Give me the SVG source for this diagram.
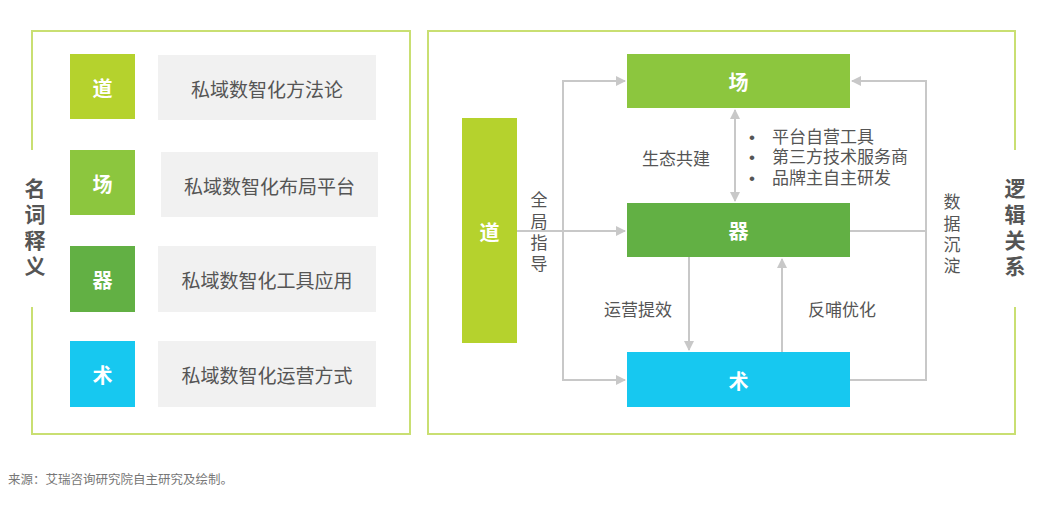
<svg xmlns="http://www.w3.org/2000/svg" width="1040" height="510" viewBox="0 0 1040 510">
<defs>
<style>
text{font-family:"Noto Sans CJK SC","Noto Sans",sans-serif;}
.frame{fill:none;stroke:#c9df72;stroke-width:2;}
.title{font-size:21px;font-weight:bold;fill:#555;text-anchor:middle;writing-mode:vertical-rl;letter-spacing:5px;}
.vlbl{font-size:17px;fill:#555;text-anchor:middle;writing-mode:vertical-rl;letter-spacing:4.3px;}
.sq{font-size:20px;font-weight:bold;fill:#fff;text-anchor:middle;dominant-baseline:central;}
.desc{font-size:19px;fill:#555;text-anchor:middle;dominant-baseline:central;}
.lbl{font-size:17px;fill:#555;text-anchor:middle;dominant-baseline:central;}
text.bul{font-family:"Liberation Sans","Noto Sans CJK SC",sans-serif;font-size:17px;fill:#555;}
.grey{fill:#f1f1f1;}
.conn{fill:none;stroke:#c8c8c8;stroke-width:2;}
.src{font-size:12.5px;fill:#777;}
</style>
<marker id="ah" viewBox="0 0 10 10" refX="9" refY="5" markerWidth="5" markerHeight="5" orient="auto-start-reverse" markerUnits="strokeWidth">
<path d="M0,0 L10,5 L0,10 z" fill="#c8c8c8"/>
</marker>
</defs>
<rect width="1040" height="510" fill="#fff"/>

<g id="left-frame">
<path class="frame" d="M32,150 V31 H410 V434 H32 V307"/>
<text class="title" x="35" y="230">名词释义</text>
</g>

<g id="def-dao">
<rect x="70" y="54" width="65" height="65" fill="#b5d22d"/>
<text class="sq" x="102.5" y="87">道</text>
<rect class="grey" x="158" y="55" width="218" height="65"/>
<text class="desc" x="267" y="88">私域数智化方法论</text>
</g>
<g id="def-chang">
<rect x="70" y="150" width="65" height="65" fill="#8cc63e"/>
<text class="sq" x="102.5" y="183">场</text>
<rect class="grey" x="161" y="152" width="217" height="65"/>
<text class="desc" x="269.5" y="185">私域数智化布局平台</text>
</g>
<g id="def-qi">
<rect x="70" y="246" width="65" height="66" fill="#62b044"/>
<text class="sq" x="102.5" y="279">器</text>
<rect class="grey" x="158" y="246" width="218" height="66"/>
<text class="desc" x="267" y="279">私域数智化工具应用</text>
</g>
<g id="def-shu">
<rect x="70" y="341" width="65" height="66" fill="#17c8f0"/>
<text class="sq" x="102.5" y="374">术</text>
<rect class="grey" x="158" y="341" width="218" height="66"/>
<text class="desc" x="267" y="374">私域数智化运营方式</text>
</g>

<g id="right-frame">
<path class="frame" d="M1015,150 V31 H428 V434 H1015 V307"/>
<text class="title" x="1015" y="230">逻辑关系</text>
</g>

<g id="connectors">
<path class="conn" d="M517,231 H625" marker-end="url(#ah)"/>
<path class="conn" d="M563,231 V81 H625" marker-end="url(#ah)"/>
<path class="conn" d="M563,231 V380 H625" marker-end="url(#ah)"/>
<path class="conn" d="M735,110 V201" marker-start="url(#ah)" marker-end="url(#ah)"/>
<path class="conn" d="M689,257 V350" marker-end="url(#ah)"/>
<path class="conn" d="M782,352 V259" marker-end="url(#ah)"/>
<path class="conn" d="M850,231 H926"/>
<path class="conn" d="M850,380 H926 V81 H852" marker-end="url(#ah)"/>
<text class="vlbl" x="539" y="234">全局指导</text>
<text class="lbl" x="676" y="157">生态共建</text>
<text class="bul"><tspan x="749" y="143">•</tspan><tspan x="772" y="143">平台自营工具</tspan><tspan x="749" y="163">•</tspan><tspan x="772" y="163">第三方技术服务商</tspan><tspan x="749" y="184">•</tspan><tspan x="772" y="184">品牌主自主研发</tspan></text>
<text class="lbl" x="638" y="308">运营提效</text>
<text class="lbl" x="842" y="308">反哺优化</text>
<text class="vlbl" x="952" y="236">数据沉淀</text>
</g>

<g id="node-dao">
<rect x="462" y="118" width="55" height="225" fill="#b5d22d"/>
<text class="sq" x="489.5" y="231">道</text>
</g>
<g id="node-chang">
<rect x="627" y="54" width="223" height="54" fill="#8cc63e"/>
<text class="sq" x="738.5" y="81">场</text>
</g>
<g id="node-qi">
<rect x="627" y="203" width="223" height="54" fill="#62b044"/>
<text class="sq" x="738.5" y="230">器</text>
</g>
<g id="node-shu">
<rect x="627" y="352" width="223" height="55" fill="#17c8f0"/>
<text class="sq" x="738.5" y="380">术</text>
</g>

<text class="src" x="8" y="484">来源：艾瑞咨询研究院自主研究及绘制。</text>
</svg>
